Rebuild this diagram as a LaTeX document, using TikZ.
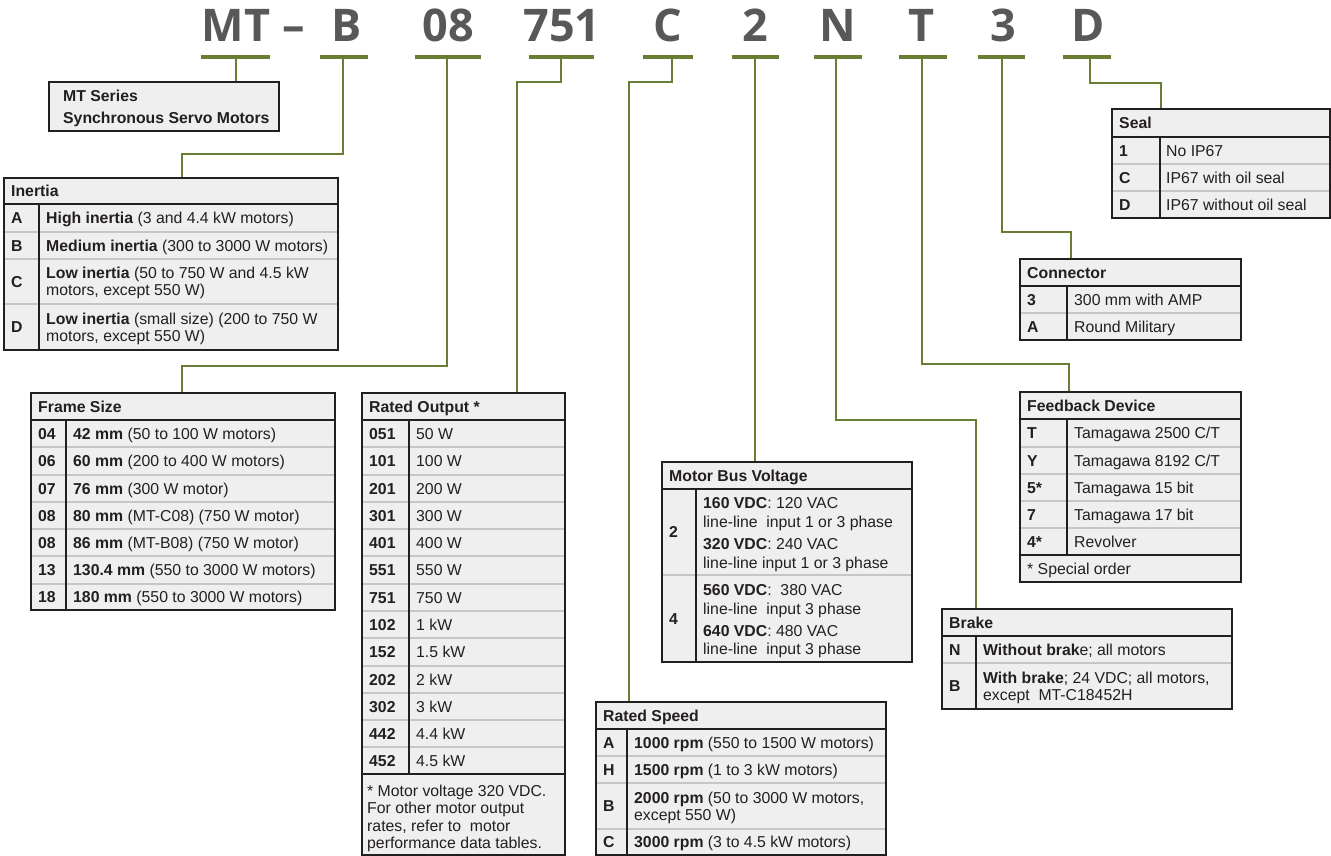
\documentclass[tikz,border=0pt]{standalone}
\usepackage{fontspec}
\setmainfont{Liberation Sans}
\newfontfamily\hdrfont{Open Sans}
\definecolor{lnkc}{HTML}{6A7E33}
\definecolor{boxc}{HTML}{231F20}
\definecolor{cellc}{HTML}{EFEFEF}
\definecolor{sepc}{HTML}{C6C6C6}
\definecolor{txtc}{HTML}{231F20}
\definecolor{bigc}{HTML}{58585A}
\newcount\mycellno
\tikzset{
  lnk/.style={draw=lnkc, line width=2.6pt},
  ubar/.style={fill=lnkc, inner sep=0pt, outer sep=0pt, minimum height=4pt},
  tfill/.style={fill=cellc, inner sep=0pt, outer sep=0pt, anchor=north west},
  tline/.style={draw=boxc, line width=1.8pt},
  hsep/.style={draw=boxc, line width=1.8pt},
  rsep/.style={draw=sepc, line width=1.6pt},
  cdiv/.style={draw=boxc, line width=1.4pt},
  txt/.style={inner sep=0pt, anchor=base west, font=\fontsize{15.8}{18}\selectfont, text=txtc},
  big/.style={inner sep=0pt, anchor=base, font=\hdrfont\bfseries\fontsize{45}{45}\selectfont, text=bigc},
}
% table box: name, x1, y1, x2, y2
\newcommand\tbox[5]{\node[tfill, minimum width={#4-#2}, minimum height={#5-#3}] (#1) at (#2,#3) {};}
\newcommand\tborder[1]{\draw[tline] (#1.north west) rectangle (#1.south east);}
% row separator: x1 x2 y
\newcommand\rs[3]{\draw[rsep] (#1,#3) -- (#2,#3);}
\newcommand\hs[3]{\draw[hsep] (#1,#3) -- (#2,#3);}
\newcommand\cd[3]{\draw[cdiv] (#1,#2) -- (#1,#3);}
% text cell: x, centre y, text
\newcommand\cell[3]{\global\advance\mycellno by 1 \node[txt] (c\the\mycellno) at (#1,#2+5.6) {#3};}
\newcommand\ubr[3]{\node[ubar, minimum width={#3-#2}] (#1) at ({(#2+#3)/2},57) {};}
\begin{document}
\begin{tikzpicture}[x=1pt,y=-1pt]
\useasboundingbox (0,0) rectangle (1331,856);

% ---------- header code ----------
\node[big] (hMT) at (236,42) {MT};
\node[big] (hdash) at (294,42) {–};
\node[big] (hB) at (347,42) {B};
\node[big] (h08) at (448,42) {08};
\node[big] (h751) at (562,42) {751};
\node[big] (hC) at (668,42) {C};
\node[big] (h2) at (755,42) {2};
\node[big] (hN) at (838,42) {N};
\node[big] (hT) at (922,42) {T};
\node[big] (h3) at (1003,42) {3};
\node[big] (hD) at (1088,42) {D};

\ubr{uMT}{201}{270}
\ubr{uB}{320}{368}
\ubr{u08}{415}{481}
\ubr{u751}{529}{594}
\ubr{uC}{643}{693}
\ubr{u2}{732}{779}
\ubr{uN}{814}{862}
\ubr{uT}{899}{947}
\ubr{u3}{978}{1025}
\ubr{uD}{1063}{1111}

% ---------- connector coordinates ----------
\coordinate (sMT) at (236,57);   \coordinate (mtIn) at (236,82);
\coordinate (sB) at (343,57);    \coordinate (pB) at (182,154);   \coordinate (inIn) at (182,178);
\coordinate (s08) at (447,57);   \coordinate (p08) at (182,366);  \coordinate (fsIn) at (182,393);
\coordinate (s751) at (561,57);  \coordinate (p751) at (517,82);  \coordinate (roIn) at (517,393);
\coordinate (sC) at (672,57);    \coordinate (pC) at (629,82);    \coordinate (rsIn) at (629,702);
\coordinate (s2) at (755,57);    \coordinate (mbIn) at (755,462);
\coordinate (sN) at (836,57);    \coordinate (pN) at (976,420);   \coordinate (brIn) at (976,609);
\coordinate (sT) at (922,57);    \coordinate (pT) at (1069,364);  \coordinate (fbIn) at (1069,392);
\coordinate (s3) at (1002,57);   \coordinate (p3) at (1071,232);  \coordinate (cnIn) at (1071,259);
\coordinate (sD) at (1090,57);   \coordinate (pD) at (1161,83);   \coordinate (slIn) at (1161,109);

\draw[lnk] (sMT) -- (mtIn);
\draw[lnk] (sB) |- (pB) -- (inIn);
\draw[lnk] (s08) |- (p08) -- (fsIn);
\draw[lnk] (s751) |- (p751) -- (roIn);
\draw[lnk] (sC) |- (pC) -- (rsIn);
\draw[lnk] (s2) -- (mbIn);
\draw[lnk] (sN) |- (pN) -- (brIn);
\draw[lnk] (sT) |- (pT) -- (fbIn);
\draw[lnk] (s3) |- (p3) -- (cnIn);
\draw[lnk] (sD) |- (pD) -- (slIn);

% ---------- MT Series box ----------
\tbox{mtbox}{49}{82}{279}{131}
\tborder{mtbox}
\cell{63}{96}{\textbf{MT Series}}
\cell{63}{118}{\textbf{Synchronous Servo Motors}}

% ---------- Inertia ----------
\tbox{inertia}{4}{178}{338}{350}
\rs{4}{338}{232} \rs{4}{338}{259} \rs{4}{338}{304}
\hs{4}{338}{204}
\cd{39}{204}{350}
\tborder{inertia}
\cell{11}{191}{\textbf{Inertia}}
\cell{11}{218}{\textbf{A}}
\cell{46}{218}{\textbf{High inertia} (3 and 4.4 kW motors)}
\cell{11}{245.5}{\textbf{B}}
\cell{46}{245.5}{\textbf{Medium inertia} (300 to 3000 W motors)}
\cell{11}{281.5}{\textbf{C}}
\cell{46}{273}{\textbf{Low inertia} (50 to 750 W and 4.5 kW}
\cell{46}{290}{motors, except 550 W)}
\cell{11}{327}{\textbf{D}}
\cell{46}{318.5}{\textbf{Low inertia} (small size) (200 to 750 W}
\cell{46}{335.5}{motors, except 550 W)}

% ---------- Frame Size ----------
\tbox{frame}{31}{393}{335}{610}
\rs{31}{335}{447} \rs{31}{335}{475} \rs{31}{335}{502} \rs{31}{335}{529} \rs{31}{335}{556} \rs{31}{335}{584}
\hs{31}{335}{420}
\cd{66}{420}{610}
\tborder{frame}
\cell{38}{406.5}{\textbf{Frame Size}}
\cell{38}{433.5}{\textbf{04}} \cell{73}{433.5}{\textbf{42 mm} (50 to 100 W motors)}
\cell{38}{461}{\textbf{06}}   \cell{73}{461}{\textbf{60 mm} (200 to 400 W motors)}
\cell{38}{488.5}{\textbf{07}} \cell{73}{488.5}{\textbf{76 mm} (300 W motor)}
\cell{38}{515.5}{\textbf{08}} \cell{73}{515.5}{\textbf{80 mm} (MT-C08) (750 W motor)}
\cell{38}{542.5}{\textbf{08}} \cell{73}{542.5}{\textbf{86 mm} (MT-B08) (750 W motor)}
\cell{38}{570}{\textbf{13}}   \cell{73}{570}{\textbf{130.4 mm} (550 to 3000 W motors)}
\cell{38}{597}{\textbf{18}}   \cell{73}{597}{\textbf{180 mm} (550 to 3000 W motors)}

% ---------- Rated Output ----------
\tbox{output}{362}{393}{565}{855}
\rs{362}{565}{447} \rs{362}{565}{475} \rs{362}{565}{502} \rs{362}{565}{529} \rs{362}{565}{556}
\rs{362}{565}{584} \rs{362}{565}{611} \rs{362}{565}{638} \rs{362}{565}{666} \rs{362}{565}{693}
\rs{362}{565}{720} \rs{362}{565}{747}
\hs{362}{565}{420}
\hs{362}{565}{774}
\cd{409}{420}{774}
\tborder{output}
\cell{369}{406.5}{\textbf{Rated Output *}}
\cell{369}{433.5}{\textbf{051}} \cell{416}{433.5}{50 W}
\cell{369}{461}{\textbf{101}}   \cell{416}{461}{100 W}
\cell{369}{488.5}{\textbf{201}} \cell{416}{488.5}{200 W}
\cell{369}{515.5}{\textbf{301}} \cell{416}{515.5}{300 W}
\cell{369}{542.5}{\textbf{401}} \cell{416}{542.5}{400 W}
\cell{369}{570}{\textbf{551}}   \cell{416}{570}{550 W}
\cell{369}{597.5}{\textbf{751}} \cell{416}{597.5}{750 W}
\cell{369}{624.5}{\textbf{102}} \cell{416}{624.5}{1 kW}
\cell{369}{652}{\textbf{152}}   \cell{416}{652}{1.5 kW}
\cell{369}{679.5}{\textbf{202}} \cell{416}{679.5}{2 kW}
\cell{369}{706.5}{\textbf{302}} \cell{416}{706.5}{3 kW}
\cell{369}{733.5}{\textbf{442}} \cell{416}{733.5}{4.4 kW}
\cell{369}{760.5}{\textbf{452}} \cell{416}{760.5}{4.5 kW}
\cell{367}{791}{* Motor voltage 320 VDC.}
\cell{367}{808}{For other motor output}
\cell{367}{826}{rates, refer to\ \ motor}
\cell{367}{843}{performance data tables.}

% ---------- Motor Bus Voltage ----------
\tbox{bus}{662}{462}{912}{662}
\rs{662}{912}{575}
\hs{662}{912}{489}
\cd{696}{489}{662}
\tborder{bus}
\cell{669}{475.5}{\textbf{Motor Bus Voltage}}
\cell{669}{532}{\textbf{2}}
\cell{703}{503}{\textbf{160 VDC}: 120 VAC}
\cell{703}{522}{line-line\ \ input 1 or 3 phase}
\cell{703}{543.5}{\textbf{320 VDC}: 240 VAC}
\cell{703}{562.5}{line-line input 1 or 3 phase}
\cell{669}{618.5}{\textbf{4}}
\cell{703}{590}{\textbf{560 VDC}:\ \ 380 VAC}
\cell{703}{609}{line-line\ \ input 3 phase}
\cell{703}{630.5}{\textbf{640 VDC}: 480 VAC}
\cell{703}{649}{line-line\ \ input 3 phase}

% ---------- Rated Speed ----------
\tbox{speed}{596}{702}{886}{855}
\rs{596}{886}{756} \rs{596}{886}{783} \rs{596}{886}{829}
\hs{596}{886}{729}
\cd{627}{729}{855}
\tborder{speed}
\cell{603}{715.5}{\textbf{Rated Speed}}
\cell{603}{742.5}{\textbf{A}} \cell{634}{742.5}{\textbf{1000 rpm} (550 to 1500 W motors)}
\cell{603}{769.5}{\textbf{H}} \cell{634}{769.5}{\textbf{1500 rpm} (1 to 3 kW motors)}
\cell{603}{806}{\textbf{B}}   \cell{634}{797.5}{\textbf{2000 rpm} (50 to 3000 W motors,}
                              \cell{634}{814.5}{except 550 W)}
\cell{603}{842}{\textbf{C}}   \cell{634}{842}{\textbf{3000 rpm} (3 to 4.5 kW motors)}

% ---------- Brake ----------
\tbox{brake}{942}{609}{1232}{709}
\rs{942}{1232}{663}
\hs{942}{1232}{636}
\cd{976}{636}{709}
\tborder{brake}
\cell{949}{622.5}{\textbf{Brake}}
\cell{949}{649.5}{\textbf{N}} \cell{983}{649.5}{\textbf{Without brak}e; all motors}
\cell{949}{686}{\textbf{B}}   \cell{983}{677.5}{\textbf{With brake}; 24 VDC; all motors,}
                              \cell{983}{694.5}{except\ \ MT-C18452H}

% ---------- Feedback Device ----------
\tbox{feedback}{1020}{392}{1241}{582}
\rs{1020}{1241}{447} \rs{1020}{1241}{474} \rs{1020}{1241}{501} \rs{1020}{1241}{528}
\hs{1020}{1241}{419}
\hs{1020}{1241}{555}
\cd{1067}{419}{555}
\tborder{feedback}
\cell{1027}{405.5}{\textbf{Feedback Device}}
\cell{1027}{433}{\textbf{T}}   \cell{1074}{433}{Tamagawa 2500 C/T}
\cell{1027}{460.5}{\textbf{Y}} \cell{1074}{460.5}{Tamagawa 8192 C/T}
\cell{1027}{487.5}{\textbf{5*}} \cell{1074}{487.5}{Tamagawa 15 bit}
\cell{1027}{514.5}{\textbf{7}} \cell{1074}{514.5}{Tamagawa 17 bit}
\cell{1027}{541.5}{\textbf{4*}} \cell{1074}{541.5}{Revolver}
\cell{1027}{568.5}{* Special order}

% ---------- Connector ----------
\tbox{conn}{1020}{259}{1241}{340}
\rs{1020}{1241}{313}
\hs{1020}{1241}{286}
\cd{1067}{286}{340}
\tborder{conn}
\cell{1027}{272.5}{\textbf{Connector}}
\cell{1027}{299.5}{\textbf{3}} \cell{1074}{299.5}{300 mm with AMP}
\cell{1027}{326.5}{\textbf{A}} \cell{1074}{326.5}{Round Military}

% ---------- Seal ----------
\tbox{seal}{1112}{109}{1330}{218}
\rs{1112}{1330}{164} \rs{1112}{1330}{191}
\hs{1112}{1330}{137}
\cd{1160}{137}{218}
\tborder{seal}
\cell{1119}{123}{\textbf{Seal}}
\cell{1119}{150.5}{\textbf{1}} \cell{1166}{150.5}{No IP67}
\cell{1119}{177.5}{\textbf{C}} \cell{1166}{177.5}{IP67 with oil seal}
\cell{1119}{204.5}{\textbf{D}} \cell{1166}{204.5}{IP67 without oil seal}

\end{tikzpicture}
\end{document}
